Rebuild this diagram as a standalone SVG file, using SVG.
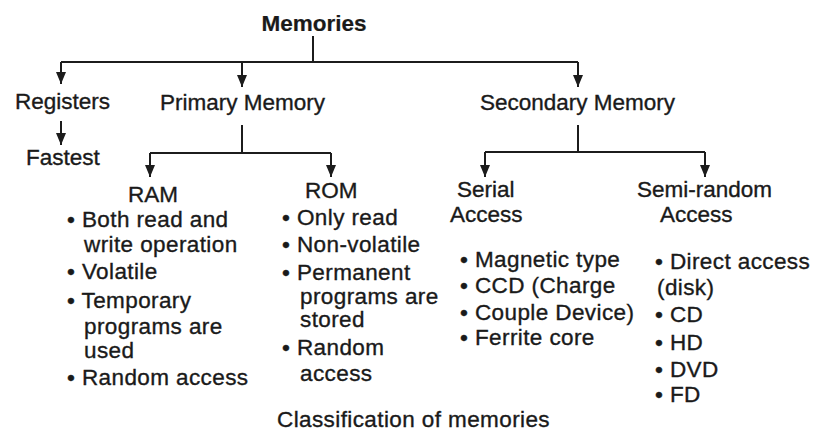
<svg xmlns="http://www.w3.org/2000/svg" width="813" height="433" viewBox="0 0 813 433">
  <defs>
    <marker id="arrow" viewBox="0 0 12 10" refX="12" refY="5" markerWidth="12" markerHeight="10" markerUnits="userSpaceOnUse" orient="auto">
      <path d="M0,0 L12,5 L0,10 z" fill="#1c1c1c"/>
    </marker>
    <style>
      text { font-family: "Liberation Sans", Arial, sans-serif; font-size: 22.5px; fill: #1a1a1a; stroke: #1a1a1a; stroke-width: 0.35px; }
      .title { font-weight: bold; stroke-width: 0.2px; }
      .item { letter-spacing: 0.4px; }
      .link { fill: none; stroke: #1c1c1c; stroke-width: 2; }
      .arr { marker-end: url(#arrow); }
    </style>
  </defs>
  <rect width="813" height="433" fill="#ffffff"/>

  <!-- connectors -->
  <g id="connectors">
    <path class="link" d="M313 36 V62 M61 62 H578"/>
    <path class="link arr" d="M61 62 V84"/>
    <path class="link arr" d="M242 62 V87"/>
    <path class="link arr" d="M578 62 V87"/>
    <path class="link arr" d="M61 121 V145"/>
    <path class="link" d="M242 125 V153 M150 153 H331"/>
    <path class="link arr" d="M150 153 V177"/>
    <path class="link arr" d="M331 153 V177"/>
    <path class="link" d="M578 125 V152 M485 152 H705"/>
    <path class="link arr" d="M485 152 V177"/>
    <path class="link arr" d="M705 152 V177"/>
  </g>

  <g id="memories">
    <text class="title" x="314" y="31" text-anchor="middle">Memories</text>
  </g>

  <g id="registers">
    <text x="15" y="109">Registers</text>
  </g>
  <g id="fastest">
    <text x="26" y="165">Fastest</text>
  </g>

  <g id="primary-memory">
    <text x="160" y="110">Primary Memory</text>
  </g>

  <g id="secondary-memory">
    <text x="480" y="110">Secondary Memory</text>
  </g>

  <g id="ram">
    <text x="128" y="202">RAM</text>
    <g class="item">
      <text x="67" y="227">• Both read and</text>
      <text x="84" y="252">write operation</text>
      <text x="67" y="279">• Volatile</text>
      <text x="67" y="308">• Temporary</text>
      <text x="84" y="334">programs are</text>
      <text x="84" y="358">used</text>
      <text x="67" y="385">• Random access</text>
    </g>
  </g>

  <g id="rom">
    <text x="305" y="198">ROM</text>
    <g class="item">
      <text x="282" y="225">• Only read</text>
      <text x="282" y="252">• Non-volatile</text>
      <text x="282" y="280">• Permanent</text>
      <text x="300" y="304">programs are</text>
      <text x="300" y="327">stored</text>
      <text x="282" y="355">• Random</text>
      <text x="300" y="381">access</text>
    </g>
  </g>

  <g id="serial-access">
    <text x="457" y="197">Serial</text>
    <text x="450" y="222">Access</text>
    <g class="item">
      <text x="460" y="267">• Magnetic type</text>
      <text x="460" y="293">• CCD (Charge</text>
      <text x="460" y="320">• Couple Device)</text>
      <text x="460" y="345">• Ferrite core</text>
    </g>
  </g>

  <g id="semi-random-access">
    <text x="637" y="197">Semi-random</text>
    <text x="660" y="222">Access</text>
    <g class="item">
      <text x="655" y="269">• Direct access</text>
      <text x="657" y="295">(disk)</text>
      <text x="655" y="322">• CD</text>
      <text x="655" y="350">• HD</text>
      <text x="655" y="377">• DVD</text>
      <text x="655" y="402">• FD</text>
    </g>
  </g>

  <g id="caption">
    <text class="item" x="277" y="427">Classification of memories</text>
  </g>
</svg>
